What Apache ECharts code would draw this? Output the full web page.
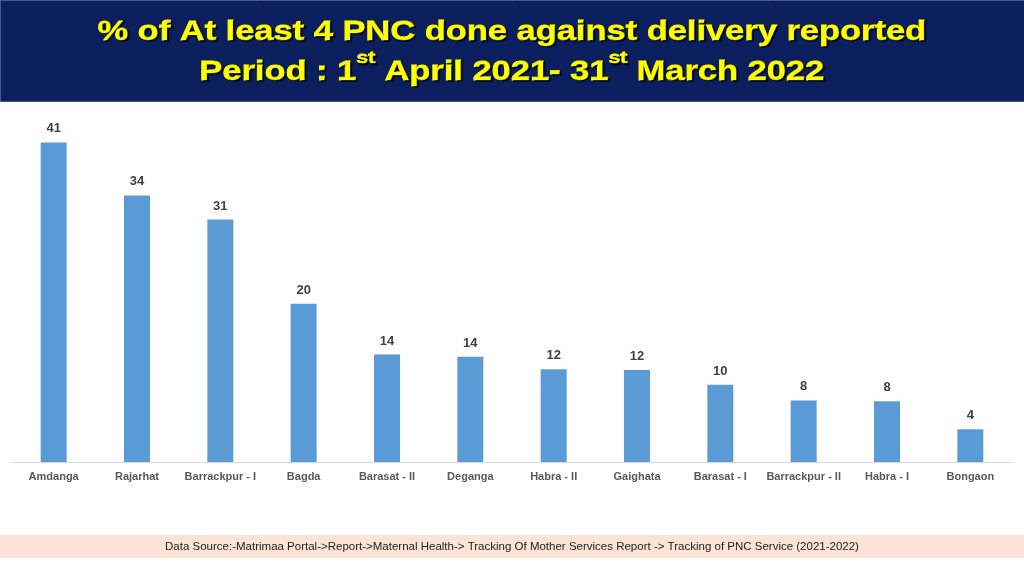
<!DOCTYPE html>
<html><head><meta charset="utf-8">
<script src="https://cdn.jsdelivr.net/npm/echarts@6/dist/echarts.min.js"></script>
<style>html,body{margin:0;padding:0;background:#fff}#c{width:1024px;height:576px}</style>
</head><body><div id="c"></div>
<script>
const categories = ['Amdanga','Rajarhat','Barrackpur - I','Bagda','Barasat - II','Deganga','Habra - II','Gaighata','Barasat - I','Barrackpur - II','Habra - I','Bongaon'];
const values = [41.0, 34.2, 31.1, 20.3, 13.8, 13.5, 11.9, 11.8, 9.9, 7.9, 7.8, 4.2];
const titleLine1 = '% of At least 4 PNC done against delivery reported';
const sourceText = 'Data Source:-Matrimaa Portal->Report->Maternal Health-> Tracking Of Mother Services Report -> Tracking of PNC Service (2021-2022)';

const chart = echarts.init(document.getElementById('c'));
const yt = {fontFamily:'Liberation Sans, Arial', fontWeight:'bold', fill:'#ffff00', stroke:'#ffff00', lineWidth:0.8, textShadowColor:'rgba(0,0,0,0.85)', textShadowOffsetX:1.5, textShadowOffsetY:1.5, textShadowBlur:1};
chart.setOption({
  backgroundColor:'#ffffff',
  animation:false,
  graphic:[
    {type:'rect', left:0, top:0, shape:{width:1024, height:101}, style:{fill:'#0b1f5e', stroke:'#3a5a9a', lineWidth:1}},
    {type:'text', x:512, y:32, scaleX:1.23, style:Object.assign({text:titleLine1, fontSize:28, align:'center', verticalAlign:'middle'}, yt)},
    {type:'text', x:512, y:68, scaleX:1.23, style:Object.assign({
      text:'{a|Period : 1}{s|st}{a| April 2021- 31}{s|st}{a| March 2022}',
      align:'center', verticalAlign:'middle', fontSize:28,
      rich:{
        a:Object.assign({fontSize:28, lineHeight:36, verticalAlign:'bottom'}, yt),
        s:Object.assign({fontSize:17, lineHeight:36, verticalAlign:'top', padding:[0,0,14,0]}, yt)
      }}, yt)},
    {type:'rect', left:0, top:535, shape:{width:1024, height:23}, style:{fill:'#fbe4d6'}},
    {type:'text', x:512, y:547, style:{text:sourceText, align:'center', verticalAlign:'middle', fontFamily:'Liberation Sans, Arial', fontSize:11.5, fill:'#222'}}
  ],
  grid:{left:12, right:12, top:119, bottom:114},
  xAxis:{type:'category', data:categories,
    axisLine:{lineStyle:{color:'#d9d9d9', width:1}}, axisTick:{show:false},
    axisLabel:{interval:0, color:'#595959', fontWeight:'bold', fontSize:11, fontFamily:'Liberation Sans, Arial', margin:9}},
  yAxis:{type:'value', min:0, max:44, show:false, splitLine:{show:false}},
  series:[{type:'bar', data:values, barWidth:26,
    itemStyle:{color:'#5b9bd5'},
    label:{show:true, position:'top', distance:7, color:'#404040', fontWeight:'bold', fontSize:13, fontFamily:'Liberation Sans, Arial',
      formatter:p=>Math.round(p.value)}}]
});
</script></body></html>
